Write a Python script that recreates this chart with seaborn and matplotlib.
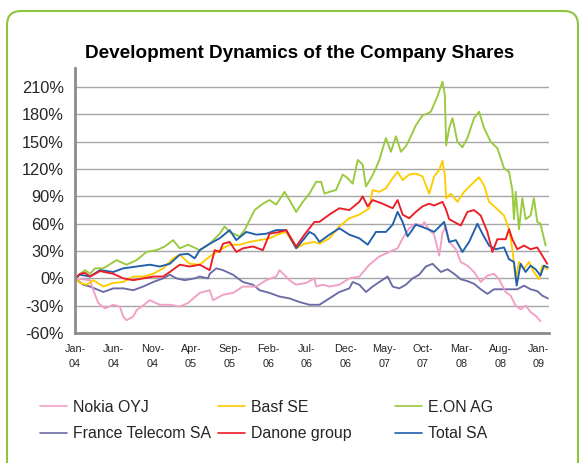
import matplotlib
matplotlib.use("Agg")
import matplotlib.pyplot as plt
from matplotlib.patches import FancyBboxPatch
from matplotlib.lines import Line2D
import pandas as pd
import seaborn as sns

# months since Jan-04 / share change in %
nokia_t = [0, 1.94, 2.37, 3.01, 3.87, 4.95, 5.81, 6.24, 6.67, 7.53, 7.96, 8.6, 9.68, 10.97, 12.26, 13.55,
           14.62, 16.13, 17.42, 17.85, 19.14, 20.43, 21.72, 23.44, 24.73, 26.02, 26.45, 27.74, 28.6, 29.89,
           30.97, 31.18, 32.04, 32.9, 34.19, 35.48, 36.77, 38.06, 39.35, 40.64, 41.72, 42.37, 43.22, 44.08,
           44.94, 45.16, 45.81, 46.45, 47.1, 47.53, 47.96, 48.39, 49.25, 49.89, 50.75, 51.61, 52.47, 53.33,
           54.19, 54.84, 55.7, 56.34, 56.99, 57.63, 58.28, 58.92, 59.57, 60.2]
nokia_v = [0, -2, -13, -27, -33, -29, -31, -42, -46, -42, -35, -31, -24, -29, -29, -31,
           -27, -16, -13, -24, -18, -16, -9, -9, -2, 2, 9, -2, -7, -5,
           0, -9, -7, -9, -7, 0, 2, 15, 24, 29, 33, 44, 55, 60,
           57, 62, 53, 48, 25, 50, 57, 40, 32, 18, 14, 7, -4, 3,
           5, -1, -15, -19, -30, -34, -30, -37, -41, -47]

basf_t = [0, 0.65, 1.51, 2.37, 3.66, 4.95, 6.24, 7.53, 8.82, 10.11, 11.4, 12.69, 13.55, 14.84, 16.13,
          17.42, 18.71, 20.0, 21.29, 22.58, 23.87, 25.16, 26.45, 27.31, 28.6, 29.68, 30.97, 31.61, 32.9,
          34.19, 35.48, 36.77, 38.06, 38.49, 39.35, 40.21, 41.08, 41.72, 42.37, 43.22, 44.08, 44.94, 45.81,
          46.45, 47.1, 47.53, 47.83, 48.0, 48.6, 49.46, 50.32, 51.61, 52.26, 52.9, 53.55, 54.62, 55.48,
          56.13, 56.56, 56.99, 57.42, 58.06, 58.71, 59.35, 60.0, 60.43, 61.07]
basf_v = [0, -5, -7, -2, -9, -5, -4, 2, 2, 5, 11, 22, 26, 16, 15,
          24, 31, 37, 37, 40, 42, 44, 49, 51, 33, 38, 40, 38, 44,
          57, 66, 70, 77, 97, 95, 99, 110, 117, 108, 114, 115, 112, 93,
          112, 119, 129, 113, 88, 93, 84, 95, 106, 111, 102, 84, 76, 69,
          54, 32, -1, 18, 10, 18, 7, -1, 14, 10]

eon_t = [0, 1.29, 1.94, 2.58, 3.66, 5.38, 6.67, 7.96, 9.25, 10.54, 11.61, 12.69, 13.55, 14.62, 16.13,
         17.42, 18.71, 19.35, 20.0, 21.29, 21.94, 22.58, 23.23, 24.3, 25.16, 26.02, 27.1, 27.74, 28.6,
         29.46, 30.32, 31.18, 31.83, 32.26, 32.9, 33.76, 34.62, 35.27, 35.91, 36.56, 37.2, 37.63, 38.28,
         38.92, 39.35, 40.21, 40.86, 41.5, 42.15, 42.79, 43.44, 44.08, 44.94, 45.59, 46.02, 46.88, 47.53,
         47.83, 48.0, 48.39, 48.82, 49.46, 50.1, 50.75, 51.61, 52.26, 52.9, 53.76, 54.62, 55.48, 56.13,
         56.56, 56.77, 56.99, 57.42, 57.85, 58.28, 58.92, 59.35, 59.78, 60.2, 60.86]
eon_v = [0, 9, 5, 11, 11, 20, 15, 20, 29, 31, 35, 42, 33, 37, 31,
         38, 49, 57, 51, 46, 53, 64, 75, 82, 86, 81, 95, 86, 73,
         84, 93, 106, 106, 93, 95, 97, 114, 110, 104, 130, 125, 101, 110,
         121, 130, 154, 139, 156, 139, 145, 156, 168, 179, 181, 183, 200, 216,
         201, 146, 165, 176, 150, 144, 154, 176, 183, 165, 150, 143, 121, 117,
         97, 65, 95, 54, 88, 65, 69, 88, 62, 60, 36]

ft_t = [0, 1.08, 1.94, 3.66, 4.95, 6.24, 7.53, 8.82, 10.11, 11.4, 12.26, 13.12, 14.19, 15.48, 16.13,
        17.2, 17.42, 18.28, 19.14, 20.43, 21.72, 23.01, 23.87, 25.16, 26.45, 27.74, 29.03, 30.32, 31.61,
        32.9, 34.19, 35.48, 35.91, 36.77, 37.63, 38.49, 39.35, 40.43, 41.08, 41.93, 42.79, 43.65, 44.51,
        45.37, 46.24, 47.31, 48.17, 49.03, 49.89, 50.75, 51.61, 52.47, 53.33, 54.19, 55.05, 56.34, 57.2,
        58.06, 58.92, 59.78, 60.43, 61.16]
ft_v = [0, -7, -9, -15, -11, -11, -13, -9, -4, 0, 4, 0, -2, 0, 2,
        0, 5, 11, 9, 4, -4, -7, -13, -16, -20, -22, -26, -29, -29,
        -22, -15, -11, -4, -7, -15, -9, -4, 2, -9, -11, -7, 0, 4,
        13, 16, 7, 10, 5, -1, -3, -6, -12, -17, -12, -12, -12, -12,
        -8, -12, -14, -19, -22]

danone_t = [0, 0.65, 1.29, 1.94, 3.23, 4.95, 6.24, 7.53, 8.82, 10.11, 11.4, 12.26, 13.55, 14.84, 16.13,
            17.42, 18.06, 18.71, 19.14, 20.0, 20.86, 21.72, 23.01, 24.3, 25.16, 26.45, 27.31, 28.6, 29.68,
            30.32, 30.97, 31.61, 32.9, 34.19, 35.48, 36.77, 37.2, 37.85, 38.49, 39.78, 41.08, 41.72, 42.37,
            43.22, 44.08, 44.94, 45.8, 46.45, 47.53, 47.96, 48.39, 49.03, 49.89, 50.75, 51.61, 52.47, 53.33,
            53.98, 54.62, 55.7, 56.13, 56.56, 57.2, 58.06, 58.92, 59.78, 60.43, 61.07]
danone_v = [0, 5, 6, 2, 8, 5, 0, -2, 0, 2, 2, 7, 15, 13, 15,
            9, 31, 29, 38, 40, 29, 33, 35, 31, 49, 51, 53, 35, 48,
            55, 62, 62, 70, 77, 75, 84, 90, 79, 86, 82, 77, 86, 70,
            66, 73, 79, 82, 80, 84, 76, 65, 62, 58, 73, 75, 69, 51,
            29, 43, 43, 54, 43, 32, 36, 32, 34, 25, 16]

total_t = [0, 0.65, 1.94, 3.23, 4.95, 6.24, 7.96, 9.68, 10.97, 12.26, 13.55, 14.62, 15.48, 16.13, 17.42,
           18.71, 20.0, 20.86, 22.15, 23.44, 24.73, 26.02, 27.31, 28.6, 29.68, 30.32, 30.97, 31.61, 32.9,
           34.19, 35.48, 36.77, 37.85, 38.92, 40.21, 41.08, 41.72, 42.37, 43.01, 44.08, 45.37, 46.45, 47.74,
           48.39, 49.25, 50.1, 50.97, 52.04, 52.69, 53.55, 54.41, 55.48, 56.13, 56.77, 57.12, 57.63, 58.28,
           58.92, 59.57, 60.2, 60.65, 61.16]
total_v = [0, 4, 2, 9, 7, 11, 13, 15, 13, 16, 26, 27, 22, 31, 38,
           44, 53, 42, 51, 48, 49, 53, 53, 33, 44, 51, 48, 40, 48,
           55, 48, 44, 37, 51, 51, 59, 73, 62, 46, 59, 55, 51, 62,
           40, 42, 29, 40, 60, 49, 36, 32, 34, 21, 18, -8, 16, 7,
           14, 10, 3, 14, 12]

companies = ["Nokia OYJ", "Basf SE", "E.ON AG", "France Telecom SA", "Danone group", "Total SA"]
colors = ["#f29fc5", "#ffcc00", "#99c93c", "#6b6ba6", "#ee1c25", "#1f5fae"]
series = [(nokia_t, nokia_v), (basf_t, basf_v), (eon_t, eon_v),
          (ft_t, ft_v), (danone_t, danone_v), (total_t, total_v)]

tick_pos = list(range(0, 61, 5))
tick_labels = ["Jan-\n04", "Jun-\n04", "Nov-\n04", "Apr-\n05", "Sep-\n05", "Feb-\n06", "Jul-\n06",
               "Dec-\n06", "May-\n07", "Oct-\n07", "Mar-\n08", "Aug-\n08", "Jan-\n09"]
y_ticks = list(range(-60, 211, 30))

frames = []
for name, (t, v) in zip(companies, series):
    frames.append(pd.DataFrame({"month": t, "change": v, "company": name}))
df = pd.concat(frames, ignore_index=True)

sns.set_style("white")
plt.rcParams["font.family"] = ["Liberation Sans", "DejaVu Sans"]

fig = plt.figure(figsize=(5.83, 4.63), dpi=100)
ax = fig.add_axes([75 / 583, 1 - 333 / 463, (549 - 75) / 583, (333 - 68) / 463])

# draw order so Total/Danone sit on top like the original
draw_order = ["France Telecom SA", "Nokia OYJ", "E.ON AG", "Basf SE", "Total SA", "Danone group"]
pal = dict(zip(companies, colors))
for name in draw_order:
    sub = df[df["company"] == name]
    sns.lineplot(data=sub, x="month", y="change", color=pal[name], lw=1.35,
                 estimator=None, sort=False, ax=ax, legend=False)

ax.set_xlim(0, 61.3)
ax.set_ylim(-60, 231)
ax.set_yticks(y_ticks)
ax.set_yticklabels([f"{y}%" for y in y_ticks], fontsize=11.8)
ax.set_xticks(tick_pos)
ax.set_xticklabels(tick_labels, fontsize=7.8, linespacing=1.6)
ax.set_xlabel("")
ax.set_ylabel("")
ax.grid(axis="y", color="#a6a6a6", lw=1)
ax.grid(axis="x", visible=False)
for s in ["top", "right"]:
    ax.spines[s].set_visible(False)
for s in ["left", "bottom"]:
    ax.spines[s].set_color("#8c8c8c")
    ax.spines[s].set_linewidth(2)
ax.tick_params(axis="both", direction="out", color="#8c8c8c", width=1.5, length=5, pad=3)

fig.text(0.514, 1 - 53 / 463, "Development Dynamics of the Company Shares",
         ha="center", va="center", fontsize=13.6, fontweight="bold", color="black")

# legend: three equal-width columns
col_x = [40 / 583, 218 / 583, 395 / 583]
for i, cx in enumerate(col_x):
    handles = [Line2D([], [], color=colors[i], lw=1.2), Line2D([], [], color=colors[i + 3], lw=1.2)]
    fig.legend(handles, [companies[i], companies[i + 3]], loc="upper left",
               bbox_to_anchor=(cx, 1 - 400 / 463), frameon=False, fontsize=11.4,
               handlelength=1.7, handletextpad=0.4, labelspacing=0.72,
               borderpad=0, borderaxespad=0)

border = FancyBboxPatch((0.07, -0.3), 5.71, 4.82, boxstyle="round,pad=0,rounding_size=0.14",
                        transform=fig.dpi_scale_trans, fill=False, ec="#8cc63f", lw=1.5)
fig.patches.append(border)

fig.savefig("out.png", dpi=100)
